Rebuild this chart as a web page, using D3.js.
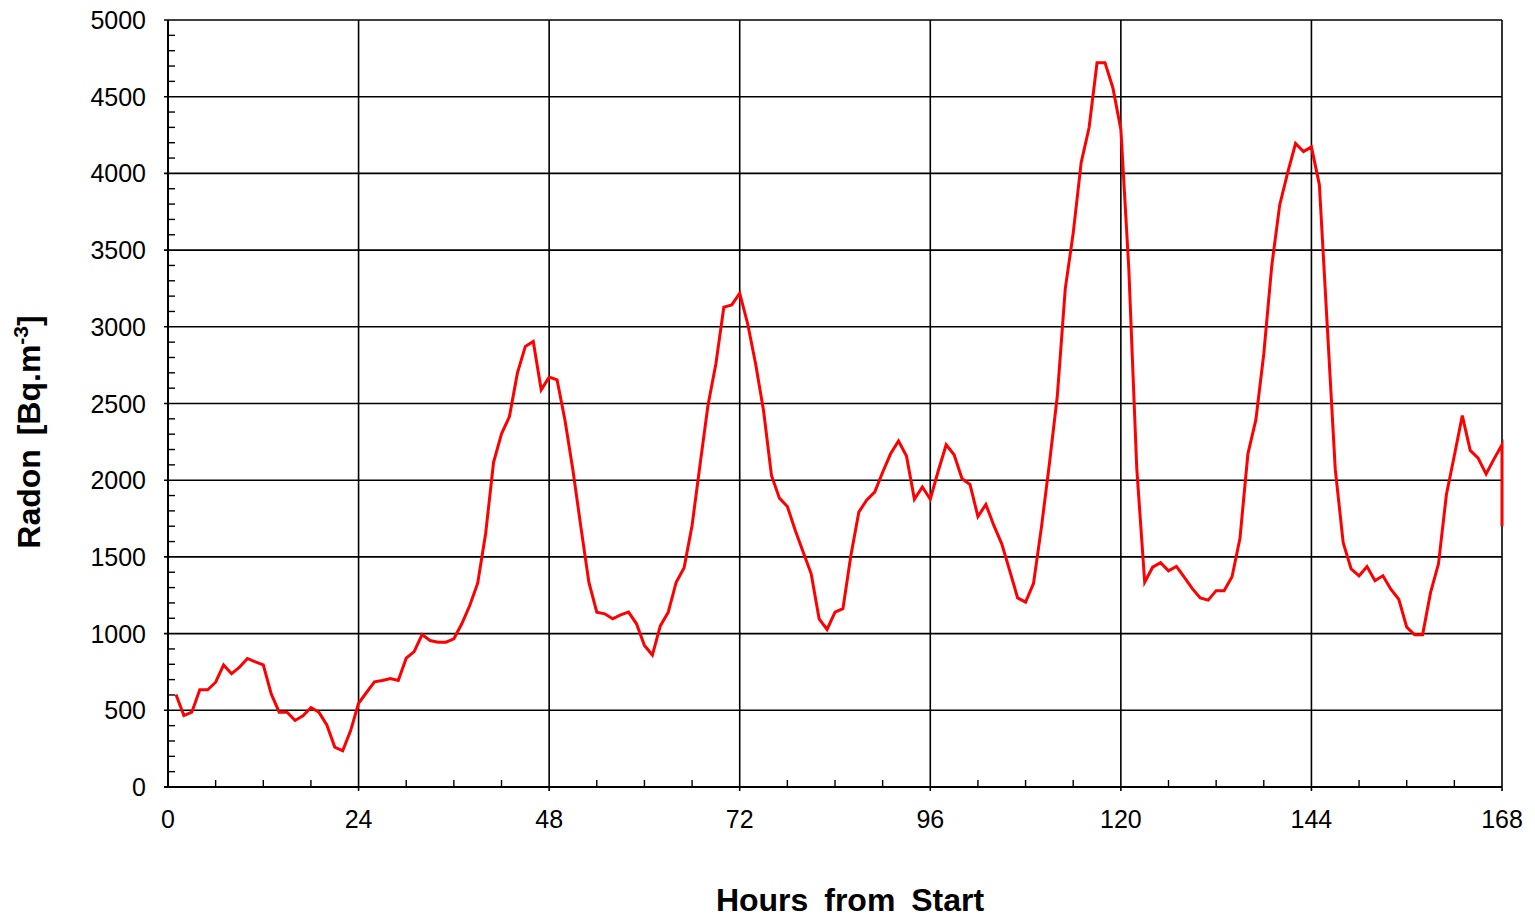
<!DOCTYPE html>
<html>
<head>
<meta charset="utf-8">
<script src="https://cdn.jsdelivr.net/npm/d3@7"></script>
<style>
  body { margin: 0; background: #fff; }
  svg { display: block; font-family: "Liberation Sans", Arial, sans-serif; }
</style>
</head>
<body>
<svg id="chart" width="1535" height="918"></svg>
<script>
// hourly radon readings, first reading at hour 1
var startHour = 1;
var radon = [
    603, 466, 488, 634, 634, 683, 796, 738, 781, 838, 816, 796,
    607, 488, 488, 434, 464, 518, 488, 405, 260, 236, 368, 546,
    616, 686, 694, 707, 694, 840, 883, 994, 955, 944, 944, 966,
    1064, 1183, 1329, 1651, 2117, 2302, 2415, 2698, 2872, 2904, 2589, 2672,
    2654, 2389, 2063, 1694, 1335, 1140, 1129, 1096, 1122, 1140, 1064, 922,
    860, 1050, 1140, 1335, 1430, 1705, 2100, 2487, 2759, 3128, 3143, 3219,
    3020, 2759, 2454, 2031, 1883, 1829, 1672, 1531, 1390, 1096, 1027, 1140,
    1162, 1509, 1792, 1872, 1922, 2052, 2172, 2256, 2158, 1876, 1956, 1876,
    2060, 2231, 2166, 2009, 1972, 1763, 1842, 1705, 1585, 1411, 1233, 1205,
    1327, 1694, 2107, 2550, 3249, 3611, 4070, 4299, 4722, 4722, 4557, 4287,
    3380, 2080, 1335, 1433, 1462, 1409, 1438, 1366, 1293, 1233, 1218, 1280,
    1280, 1371, 1621, 2172, 2393, 2823, 3396, 3793, 4003, 4195, 4142, 4173,
    3926, 3000, 2072, 1592, 1422, 1377, 1437, 1345, 1377, 1289, 1224, 1042,
    992, 992, 1267, 1455, 1907, 2161, 2421, 2194, 2143, 2040, 2139, 2231,
    1700
];
var xTicks = [0, 24, 48, 72, 96, 120, 144, 168];
var xMinorStep = 6;
var yTicks = [0, 500, 1000, 1500, 2000, 2500, 3000, 3500, 4000, 4500, 5000];
var yMinorStep = 100;

var svg = d3.select('#chart');
var plotLeft = 168, plotRight = 1502, plotTop = 20, plotBottom = 787;

var x = d3.scaleLinear().domain([0, 168]).range([plotLeft, plotRight]).clamp(true);
var y = d3.scaleLinear().domain([0, 5000]).range([plotBottom, plotTop]);

// grid lines
svg.append('g').selectAll('line')
    .data(yTicks.slice(1))
    .enter().append('line')
    .attr('x1', plotLeft - 4).attr('x2', plotRight)
    .attr('y1', function(d){ return y(d); })
    .attr('y2', function(d){ return y(d); })
    .style('stroke', '#000').style('stroke-width', 1.6);

svg.append('g').selectAll('line')
    .data(xTicks.slice(1))
    .enter().append('line')
    .attr('x1', function(d){ return x(d); })
    .attr('x2', function(d){ return x(d); })
    .attr('y1', plotTop).attr('y2', plotBottom + 4)
    .style('stroke', '#000').style('stroke-width', 1.6);

// minor ticks, inside the plot
var yMinor = d3.range(0, 5000, yMinorStep).filter(function(d){ return d % 500 !== 0; });
svg.append('g').selectAll('line')
    .data(yMinor)
    .enter().append('line')
    .attr('x1', plotLeft).attr('x2', plotLeft + 7)
    .attr('y1', function(d){ return y(d); })
    .attr('y2', function(d){ return y(d); })
    .style('stroke', '#000').style('stroke-width', 1.4);

var xMinor = d3.range(0, 168, xMinorStep).filter(function(d){ return d % 24 !== 0; });
svg.append('g').selectAll('line')
    .data(xMinor)
    .enter().append('line')
    .attr('x1', function(d){ return x(d); })
    .attr('x2', function(d){ return x(d); })
    .attr('y1', plotBottom).attr('y2', plotBottom - 7)
    .style('stroke', '#000').style('stroke-width', 1.4);

// axis lines
svg.append('line')
    .attr('x1', plotLeft).attr('x2', plotLeft).attr('y1', plotTop).attr('y2', plotBottom + 1)
    .style('stroke', '#000').style('stroke-width', 2);
svg.append('line')
    .attr('x1', plotLeft - 4).attr('x2', plotRight).attr('y1', plotBottom).attr('y2', plotBottom)
    .style('stroke', '#000').style('stroke-width', 2);

// tick labels
svg.append('g').selectAll('text')
    .data(yTicks)
    .enter().append('text')
    .attr('x', plotLeft - 22)
    .attr('y', function(d){ return y(d); })
    .attr('dy', '0.36em')
    .attr('text-anchor', 'end')
    .style('font-size', '25px')
    .text(function(d){ return d; });

svg.append('g').selectAll('text')
    .data(xTicks)
    .enter().append('text')
    .attr('x', function(d){ return x(d); })
    .attr('y', plotBottom + 41)
    .attr('text-anchor', 'middle')
    .style('font-size', '25px')
    .text(function(d){ return d; });

// data line
var line = d3.line()
    .x(function(d, i){ return x(startHour + i); })
    .y(function(d){ return y(d); });

svg.append('path')
    .datum(radon)
    .attr('d', line)
    .style('fill', 'none')
    .style('stroke', '#ff0000')
    .style('stroke-width', 3)
    .style('stroke-linejoin', 'miter');

// axis titles
svg.append('text')
    .attr('x', 850).attr('y', 911)
    .attr('text-anchor', 'middle')
    .style('font-size', '32px').style('font-weight', 'bold')
    .style('word-spacing', '7px')
    .text('Hours from Start');

var yTitle = svg.append('text')
    .attr('transform', 'translate(40,432) rotate(-90)')
    .attr('text-anchor', 'middle')
    .style('font-size', '32px').style('font-weight', 'bold')
    .style('word-spacing', '5px');
yTitle.append('tspan').text('Radon [Bq.m');
yTitle.append('tspan').attr('dy', -12).style('font-size', '21px').text('-3');
yTitle.append('tspan').attr('dy', 12).text(']');
</script>
</body>
</html>
